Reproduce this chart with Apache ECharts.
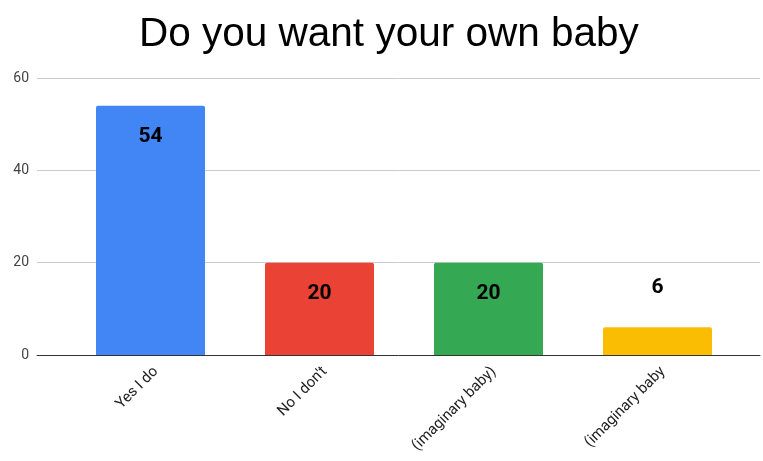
<!DOCTYPE html>
<html>
<head>
<meta charset="utf-8">
<script src="https://cdn.jsdelivr.net/npm/echarts@6/dist/echarts.min.js"></script>
<style>
  html, body { margin: 0; padding: 0; background: #fff; }
  #chart { width: 763px; height: 461px; }
</style>
</head>
<body>
<div id="chart"></div>
<script>
const categories = ['Yes I do', 'No I don\'t', '(imaginary baby)', '(imaginary baby'];
const counts = [54, 20, 20, 6];
const barColors = ['#4285f4', '#ea4335', '#34a853', '#fbbc04'];
const yTicks = { min: 0, max: 60, interval: 20 };

const chart = echarts.init(document.getElementById('chart'));

// labels sit inside the bar unless the bar is too short, then above it
const barData = counts.map((v, i) => ({
    value: v,
    itemStyle: { color: barColors[i] },
    label: v < 10 ? { position: 'top', distance: 29 } : { position: 'insideTop', distance: 21 }
}));

const option = {
    animation: false,
    title: {
        text: 'Do you want your own baby',
        left: 134,
        top: 9,
        textStyle: {
            fontFamily: 'Liberation Sans, Arial',
            fontSize: 40.5,
            fontWeight: 'normal',
            color: '#000'
        }
    },
    grid: [
        { left: 37, right: 3, top: 78, bottom: 106 },
        { left: 66, right: 21, top: 78, bottom: 106 }
    ],
    xAxis: [
        {
            gridIndex: 0,
            type: 'value',
            min: 0,
            max: 1,
            axisLine: { show: true, lineStyle: { color: '#333', width: 1 } },
            axisTick: { show: false },
            axisLabel: { show: false },
            splitLine: { show: false }
        },
        {
            gridIndex: 1,
            type: 'category',
            data: categories,
            axisLine: { show: false },
            axisTick: { show: false },
            axisLabel: {
                rotate: 45,
                margin: 9,
                verticalAlign: 'top',
                fontFamily: 'Roboto, Arial',
                fontSize: 15,
                color: '#222'
            }
        }
    ],
    yAxis: [
        {
            gridIndex: 0,
            type: 'value',
            min: yTicks.min,
            max: yTicks.max,
            interval: yTicks.interval,
            axisLine: { show: false },
            axisTick: { show: false },
            axisLabel: {
                margin: 8,
                fontFamily: 'Roboto, Arial',
                fontSize: 14,
                color: '#444'
            },
            splitLine: { lineStyle: { color: '#cccccc', width: 1 } }
        },
        {
            gridIndex: 1,
            type: 'value',
            min: yTicks.min,
            max: yTicks.max,
            interval: yTicks.interval,
            show: false,
            splitLine: { show: false }
        }
    ],
    series: [
        {
            type: 'bar',
            xAxisIndex: 1,
            yAxisIndex: 1,
            data: barData,
            barWidth: 109,
            itemStyle: { borderRadius: [2, 2, 0, 0] },
            label: {
                show: true,
                fontFamily: 'Roboto, Arial',
                fontWeight: 'bold',
                fontSize: 21,
                color: '#000'
            }
        }
    ]
};

chart.setOption(option);
</script>
</body>
</html>
